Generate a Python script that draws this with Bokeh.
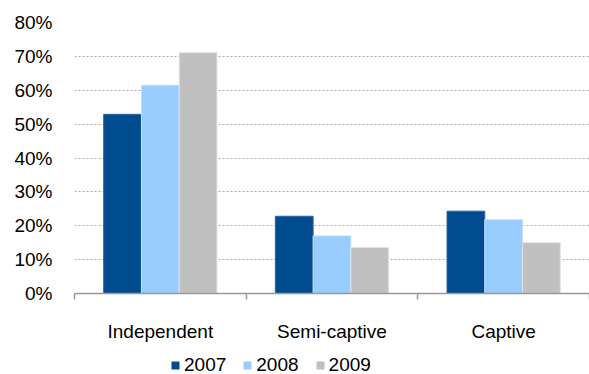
from bokeh.plotting import figure
from bokeh.layouts import column
from bokeh.models import (ColumnDataSource, Range1d, FixedTicker, NumeralTickFormatter,
                          Legend, LegendItem)
from bokeh.embed import file_html
from bokeh.resources import INLINE

# Share of engagements by model, per year
categories = ["Independent", "Semi-captive", "Captive"]
years = ["2007", "2008", "2009"]
values_2007 = [0.529, 0.228, 0.243]
values_2008 = [0.615, 0.170, 0.218]
values_2009 = [0.711, 0.136, 0.150]
y_ticks = [0.0, 0.1, 0.2, 0.3, 0.4, 0.5, 0.6, 0.7, 0.8]

series = [values_2007, values_2008, values_2009]
colors = ["#004C8F", "#99CCFF", "#C0C0C0"]
edge_colors = ["#2A66A3", "#C4E2FF", "#E2E2E2"]

FONT = "Liberation Sans"
bar_w = 0.22
offsets = [-bar_w, 0.0, bar_w]

p = figure(width=589, height=344, output_backend="svg", toolbar_location=None,
           x_range=Range1d(0, 3), y_range=Range1d(0, 0.8),
           min_border_left=74, min_border_right=0, min_border_top=22,
           min_border_bottom=50)
p.outline_line_color = None
p.background_fill_color = "white"
p.border_fill_color = "white"

sources = []
for vals, off, col, edge in zip(series, offsets, colors, edge_colors):
    src = ColumnDataSource(dict(x=[i + 0.5 + off for i in range(len(categories))], top=vals))
    sources.append(src)
    p.vbar(x="x", top="top", width=bar_w, source=src, fill_color=col,
           line_color=edge, line_width=1)

# y axis: percentage labels only
p.yaxis.ticker = FixedTicker(ticks=y_ticks)
p.yaxis.formatter = NumeralTickFormatter(format="0%")
p.yaxis.axis_line_color = None
p.yaxis.major_tick_line_color = None
p.yaxis.minor_tick_line_color = None
p.yaxis.major_tick_out = 0
p.yaxis.major_tick_in = 0
p.yaxis.major_label_standoff = 22
p.yaxis.major_label_text_font = FONT
p.yaxis.major_label_text_font_size = "19px"
p.yaxis.major_label_text_color = "#000000"

# x axis: labels at group centres, tick marks at group boundaries
p.xaxis.ticker = FixedTicker(ticks=[0.5, 1.5, 2.5], minor_ticks=[0, 1, 2, 3])
p.xaxis.major_label_overrides = {0.5: categories[0], 1.5: categories[1], 2.5: categories[2]}
p.xaxis.major_tick_line_color = None
p.xaxis.major_tick_out = 0
p.xaxis.major_tick_in = 0
p.xaxis.minor_tick_out = 6
p.xaxis.minor_tick_in = 0
p.xaxis.minor_tick_line_color = "#999999"
p.xaxis.minor_tick_line_width = 1.5
p.xaxis.axis_line_color = "#999999"
p.xaxis.axis_line_width = 1.5
p.xaxis.major_label_standoff = 21
p.xaxis.major_label_text_font = FONT
p.xaxis.major_label_text_font_size = "19px"
p.xaxis.major_label_text_color = "#000000"

p.xgrid.grid_line_color = None
p.ygrid.ticker = FixedTicker(ticks=y_ticks[1:])
p.ygrid.grid_line_color = "#AAAAAA"
p.ygrid.grid_line_dash = "2 2"
p.ygrid.grid_line_width = 1

# Legend strip under the chart; its ranges keep the series bars out of view
lg = figure(width=589, height=30, output_backend="svg", toolbar_location=None,
            x_range=Range1d(10, 11), y_range=Range1d(5, 6),
            min_border_left=74, min_border_right=0, min_border_top=0, min_border_bottom=0)
lg.axis.visible = False
lg.grid.visible = False
lg.outline_line_color = None
lg.border_fill_color = "white"
lg.background_fill_color = "white"

legend_renderers = []
for src, col in zip(sources, colors):
    r = lg.vbar(x="x", top="top", width=bar_w, source=src,
                fill_color=col, line_color=None)
    legend_renderers.append(r)

legend = Legend(items=[LegendItem(label=y, renderers=[r]) for y, r in zip(years, legend_renderers)],
                orientation="horizontal", location=(96, -2))
legend.glyph_width = 10
legend.glyph_height = 10
legend.label_standoff = 4
legend.spacing = 16
legend.padding = 0
legend.margin = 0
legend.border_line_color = None
legend.background_fill_alpha = 0
legend.label_text_font = FONT
legend.label_text_font_size = "19px"
legend.label_text_color = "#000000"
legend.label_height = 20
lg.add_layout(legend)

layout = column(p, lg, spacing=0)
open("out.html", "w").write(file_html(layout, INLINE))
